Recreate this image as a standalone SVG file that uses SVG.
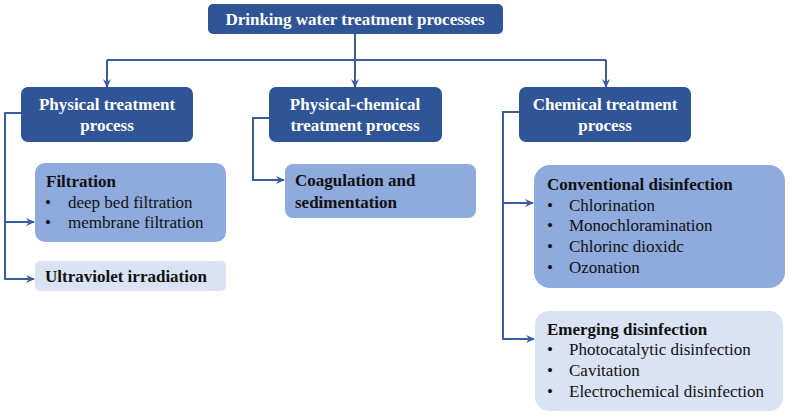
<svg xmlns="http://www.w3.org/2000/svg" width="790" height="416" viewBox="0 0 790 416">
<style>
.dark{fill:#2f5597}
.mid{fill:#8faadc}
.light{fill:#dae3f3}
.con{fill:none;stroke:#3a5d9c;stroke-width:2}
</style>
<defs>
<marker id="ah" markerWidth="10" markerHeight="10" refX="8" refY="5" orient="auto" markerUnits="userSpaceOnUse">
<path d="M0,1 L9,5 L0,9 L3,5 Z" fill="#3a5d9c"/>
</marker>
</defs>
<rect width="790" height="416" fill="#ffffff"/>
<g id="connectors">
<path class="con" d="M355,34 V87" marker-end="url(#ah)"/>
<path class="con" d="M107,60 H606"/>
<path class="con" d="M107,60 V87" marker-end="url(#ah)"/>
<path class="con" d="M606,60 V87" marker-end="url(#ah)"/>
<path class="con" d="M21,113 H5 V279 H34" marker-end="url(#ah)"/>
<path class="con" d="M5,222 H34" marker-end="url(#ah)"/>
<path class="con" d="M269,118 H253 V180 H284" marker-end="url(#ah)"/>
<path class="con" d="M519,112 H503 V339 H534" marker-end="url(#ah)"/>
<path class="con" d="M503,203 H533" marker-end="url(#ah)"/>
</g>
<g id="root" font-family="Liberation Serif, serif" font-size="17" font-weight="bold" fill="#ffffff" text-anchor="middle">
<rect class="dark" x="208" y="4" width="295" height="30" rx="5"/>
<text x="355" y="25">Drinking water treatment processes</text>
</g>
<g id="physical" font-family="Liberation Serif, serif" font-size="17" font-weight="bold" fill="#ffffff" text-anchor="middle">
<rect class="dark" x="21" y="87" width="172" height="55" rx="7"/>
<text x="107" y="110">Physical treatment</text>
<text x="107" y="131">process</text>
</g>
<g id="physchem" font-family="Liberation Serif, serif" font-size="17" font-weight="bold" fill="#ffffff" text-anchor="middle">
<rect class="dark" x="269" y="87" width="173" height="55" rx="7"/>
<text x="355" y="110">Physical-chemical</text>
<text x="355" y="131">treatment process</text>
</g>
<g id="chemical" font-family="Liberation Serif, serif" font-size="17" font-weight="bold" fill="#ffffff" text-anchor="middle">
<rect class="dark" x="519" y="87" width="172" height="55" rx="7"/>
<text x="605" y="110">Chemical treatment</text>
<text x="605" y="131">process</text>
</g>
<g id="filtration" font-family="Liberation Serif, serif" font-size="17" fill="#111111">
<rect class="mid" x="35" y="163" width="191" height="79" rx="10"/>
<text x="46" y="187" font-weight="bold">Filtration</text>
<text x="45" y="208">•</text>
<text x="68" y="208">deep bed filtration</text>
<text x="45" y="228">•</text>
<text x="68" y="228">membrane filtration</text>
</g>
<g id="uv" font-family="Liberation Serif, serif" font-size="17" fill="#111111">
<rect class="light" x="35" y="261" width="191" height="30" rx="5"/>
<text x="45" y="282" font-weight="bold">Ultraviolet irradiation</text>
</g>
<g id="coagulation" font-family="Liberation Serif, serif" font-size="17" fill="#111111" font-weight="bold">
<rect class="mid" x="285" y="164" width="191" height="54" rx="8"/>
<text x="295" y="186">Coagulation and</text>
<text x="295" y="208">sedimentation</text>
</g>
<g id="conventional" font-family="Liberation Serif, serif" font-size="17" fill="#111111">
<rect class="mid" x="534" y="165" width="251" height="123" rx="16"/>
<text x="547" y="190" font-weight="bold">Conventional disinfection</text>
<text x="547" y="211">•</text>
<text x="569" y="211">Chlorination</text>
<text x="547" y="231">•</text>
<text x="569" y="231">Monochloramination</text>
<text x="547" y="252">•</text>
<text x="569" y="252">Chlorinc dioxidc</text>
<text x="547" y="273">•</text>
<text x="569" y="273">Ozonation</text>
</g>
<g id="emerging" font-family="Liberation Serif, serif" font-size="17" fill="#111111">
<rect class="light" x="535" y="311" width="248" height="100" rx="14"/>
<text x="547" y="335" font-weight="bold">Emerging disinfection</text>
<text x="547" y="355">•</text>
<text x="569" y="355">Photocatalytic disinfection</text>
<text x="547" y="376">•</text>
<text x="569" y="376">Cavitation</text>
<text x="547" y="397">•</text>
<text x="569" y="397">Electrochemical disinfection</text>
</g>
</svg>
